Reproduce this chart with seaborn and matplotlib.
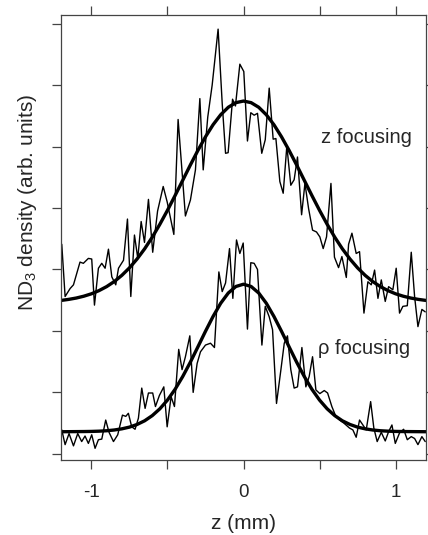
import matplotlib as mpl
mpl.use('Agg')
import matplotlib.pyplot as plt
import seaborn as sns

# ── Data ─────────────────────────────────────────────────────────────────
# z focusing: measured trace
z_focus_x = [-1.195, -1.173, -1.140, -1.118, -1.075, -1.053, -1.020, -0.998,
             -0.980, -0.954, -0.932, -0.910, -0.888, -0.866, -0.840, -0.822,
             -0.789, -0.763, -0.741, -0.717, -0.695, -0.673, -0.651, -0.625,
             -0.597, -0.565, -0.528, -0.502, -0.458, -0.430, -0.382, -0.349,
             -0.316, -0.287, -0.265, -0.235, -0.206, -0.167, -0.140, -0.118,
             -0.101, -0.072, -0.053, -0.024, 0.002, 0.026, 0.048, 0.070,
             0.092, 0.120, 0.143, 0.169, 0.195, 0.213, 0.239, 0.261,
             0.285, 0.311, 0.333, 0.355, 0.382, 0.404, 0.428, 0.454,
             0.480, 0.502, 0.524, 0.546, 0.575, 0.598, 0.625, 0.647,
             0.676, 0.691, 0.713, 0.741, 0.763, 0.792, 0.818, 0.840,
             0.862, 0.884, 0.906, 0.932, 0.954, 0.982, 1.004, 1.026,
             1.048, 1.077, 1.103, 1.125, 1.147, 1.173, 1.195]
z_focus_y = [3.41, 2.56, 2.69, 2.75, 3.12, 3.10, 3.18, 3.17,
             2.42, 3.02, 3.10, 3.02, 3.33, 2.88, 2.75, 3.02,
             3.15, 3.82, 2.56, 3.56, 3.18, 3.78, 3.44, 4.14,
             3.28, 3.95, 4.35, 4.10, 3.57, 5.44, 3.87, 4.13,
             4.62, 5.78, 4.62, 5.48, 6.00, 6.91, 5.70, 4.89,
             4.90, 5.77, 5.66, 6.34, 6.22, 5.09, 5.55, 5.51,
             5.54, 4.89, 5.11, 5.95, 5.12, 5.13, 4.43, 4.24,
             5.01, 4.37, 4.46, 4.83, 3.89, 4.40, 3.99, 3.64,
             3.61, 3.53, 3.34, 3.53, 4.40, 3.20, 3.03, 3.21,
             2.87, 3.41, 3.59, 3.26, 3.29, 2.29, 2.80, 2.75,
             2.99, 2.53, 2.83, 2.48, 2.72, 2.67, 3.02, 2.29,
             2.40, 2.41, 3.28, 2.56, 2.07, 2.35, 2.31]

# rho focusing: measured trace
rho_focus_x = [-1.195, -1.173, -1.147, -1.118, -1.090, -1.064, -1.042, -1.020,
               -0.998, -0.976, -0.954, -0.932, -0.906, -0.884, -0.855, -0.827,
               -0.796, -0.774, -0.757, -0.735, -0.713, -0.691, -0.669, -0.647,
               -0.625, -0.597, -0.579, -0.553, -0.524, -0.502, -0.476, -0.454,
               -0.426, -0.404, -0.382, -0.353, -0.331, -0.305, -0.283, -0.250,
               -0.217, -0.191, -0.162, -0.140, -0.118, -0.092, -0.070, -0.046,
               -0.024, -0.002, 0.026, 0.048, 0.070, 0.092, 0.121, 0.143,
               0.169, 0.191, 0.217, 0.246, 0.268, 0.289, 0.311, 0.333,
               0.355, 0.384, 0.410, 0.432, 0.454, 0.476, 0.502, 0.531,
               0.553, 0.581, 0.607, 0.632, 0.660, 0.697, 0.719, 0.741,
               0.763, 0.785, 0.807, 0.836, 0.857, 0.879, 0.906, 0.932,
               0.954, 0.976, 0.998, 1.026, 1.053, 1.077, 1.103, 1.125,
               1.147, 1.173, 1.195]
rho_focus_y = [0.39, 0.15, 0.33, 0.13, 0.33, 0.20, 0.29, 0.17,
               0.31, 0.09, 0.23, 0.24, 0.55, 0.35, 0.20, 0.31,
               0.63, 0.61, 0.66, 0.44, 0.40, 0.58, 1.07, 0.74,
               0.99, 0.99, 0.77, 0.95, 1.09, 0.44, 0.93, 0.77,
               1.70, 1.37, 1.58, 1.92, 1.00, 1.47, 1.66, 1.77,
               1.80, 1.73, 2.96, 2.64, 2.78, 3.34, 2.53, 3.48,
               3.26, 3.43, 2.03, 3.11, 3.10, 3.00, 1.77, 2.40,
               2.23, 2.02, 0.82, 1.37, 1.80, 1.92, 1.37, 1.07,
               1.09, 1.73, 1.09, 1.26, 1.58, 1.04, 0.98, 1.03,
               0.99, 0.77, 0.61, 0.55, 0.50, 0.42, 0.39, 0.27,
               0.55, 0.47, 0.39, 0.85, 0.42, 0.20, 0.35, 0.21,
               0.36, 0.47, 0.17, 0.34, 0.40, 0.23, 0.28, 0.25,
               0.15, 0.28, 0.20]

# fitted curves, sampled every 0.05 mm
fit_x = [-1.20, -1.15, -1.10, -1.05, -1.00, -0.95, -0.90, -0.85, -0.80,
         -0.75, -0.70, -0.65, -0.60, -0.55, -0.50, -0.45, -0.40, -0.35,
         -0.30, -0.25, -0.20, -0.15, -0.10, -0.05, 0.00, 0.05, 0.10,
         0.15, 0.20, 0.25, 0.30, 0.35, 0.40, 0.45, 0.50, 0.55, 0.60,
         0.65, 0.70, 0.75, 0.80, 0.85, 0.90, 0.95, 1.00, 1.05, 1.10,
         1.15, 1.20]
z_fit_y = [2.496, 2.513, 2.535, 2.565, 2.604, 2.656, 2.721, 2.803, 2.904,
           3.026, 3.170, 3.336, 3.525, 3.735, 3.962, 4.202, 4.449, 4.697,
           4.936, 5.158, 5.355, 5.517, 5.639, 5.714, 5.740, 5.714, 5.639,
           5.517, 5.355, 5.158, 4.936, 4.697, 4.449, 4.202, 3.962, 3.735,
           3.525, 3.336, 3.170, 3.026, 2.904, 2.803, 2.721, 2.656, 2.604,
           2.565, 2.535, 2.513, 2.496]
rho_fit_y = [0.360, 0.361, 0.362, 0.363, 0.365, 0.369, 0.376, 0.388, 0.407,
             0.435, 0.478, 0.538, 0.622, 0.733, 0.875, 1.050, 1.257, 1.489,
             1.740, 1.994, 2.236, 2.450, 2.617, 2.723, 2.760, 2.723, 2.617,
             2.450, 2.236, 1.994, 1.740, 1.489, 1.257, 1.050, 0.875, 0.733,
             0.622, 0.538, 0.478, 0.435, 0.407, 0.388, 0.376, 0.369, 0.365,
             0.363, 0.362, 0.361, 0.360]

x_ticks = [-1, 0, 1]
x_minor = [-0.5, 0.5]
y_ticks = [0, 1, 2, 3, 4, 5, 6, 7]

# ── Style ────────────────────────────────────────────────────────────────
sns.set_style('ticks')
plt.rcParams['font.family'] = ['Liberation Sans', 'DejaVu Sans']
plt.rcParams['mathtext.fontset'] = 'custom'
plt.rcParams['mathtext.rm'] = 'Liberation Sans'
plt.rcParams['axes.unicode_minus'] = False

fig = plt.figure(figsize=(4.28, 5.35), dpi=100)
ax = fig.add_axes([61 / 428, 1 - 460 / 535, 365 / 428, 445 / 535])

trace_kw = dict(color='black', lw=1.0, sort=False, estimator=None, ax=ax)
fit_kw = dict(color='black', lw=2.4, sort=False, estimator=None, ax=ax)
sns.lineplot(x=z_focus_x, y=z_focus_y, **trace_kw)
sns.lineplot(x=rho_focus_x, y=rho_focus_y, **trace_kw)
sns.lineplot(x=fit_x, y=z_fit_y, **fit_kw)
sns.lineplot(x=fit_x, y=rho_fit_y, **fit_kw)

ax.text(0.507, 5.15, 'z focusing', fontsize=14.5, va='center', ha='left')
ax.text(0.487, 1.71, '\u03c1 focusing', fontsize=14.5, va='center', ha='left')

ax.set_xlim(-1.2, 1.2)
ax.set_ylim(-0.1, 7.14)
ax.set_xticks(x_ticks)
ax.set_xticks(x_minor, minor=True)
ax.set_yticks(y_ticks)
ax.set_yticklabels([])
ax.tick_params(axis='both', which='both', direction='out', length=6.5,
               width=0.9, color='#444444', top=True, right=True)
ax.tick_params(axis='x', labelsize=13.5, pad=11)
for s in ax.spines.values():
    s.set_visible(True)
    s.set_color('#444444')
    s.set_linewidth(0.9)

ax.set_xlabel('z (mm)', fontsize=15, labelpad=9)
ax.set_ylabel('ND$_3$ density (arb. units)', fontsize=15)
ax.yaxis.set_label_coords(-0.06, 0.58)

fig.savefig('out.png', dpi=100)
